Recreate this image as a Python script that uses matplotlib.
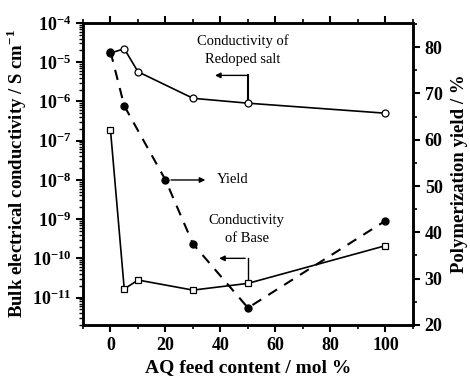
import matplotlib
matplotlib.use("Agg")
import matplotlib.pyplot as plt
from matplotlib.ticker import LogLocator, MultipleLocator, NullFormatter

plt.rcParams['font.family'] = ['Liberation Serif', 'DejaVu Serif']
plt.rcParams['mathtext.fontset'] = 'custom'
plt.rcParams['mathtext.rm'] = 'Liberation Serif'
plt.rcParams['mathtext.bf'] = 'Liberation Serif:bold'

# data
aq = [0, 5, 10, 30, 50, 100]
redoped = [1.7e-5, 2.2e-5, 5.7e-6, 1.2e-6, 9e-7, 5e-7]
base = [1.85e-7, 1.65e-11, 2.8e-11, 1.55e-11, 2.3e-11, 2.1e-10]
aq_yield = [0, 5, 20, 30, 50, 100]
yield_pct = [79, 67.3, 51.3, 37.5, 23.7, 42.5]

fig = plt.figure(figsize=(4.7, 3.79), dpi=100)
ax = fig.add_axes([0.1766, 0.1425, 0.702, 0.797])
ax2 = ax.twinx()

ax.plot(aq, redoped, '-', color='black', lw=1.2, marker='o', ms=5,
        mfc='white', mec='black', mew=0.9, zorder=3)
ax.plot(aq, base, '-', color='black', lw=1.2, marker='s', ms=5,
        mfc='white', mec='black', mew=0.9, zorder=3)
ax2.plot(aq_yield, yield_pct, '--', color='black', lw=1.5, dashes=(5, 4),
         marker='o', ms=5, mfc='black', mec='black')

ax.set_yscale('log')
ax.set_xlim(-10, 110)
ax.set_ylim(2e-12, 1e-4)
ax2.set_ylim(20, 85.2)

ax.xaxis.set_major_locator(MultipleLocator(20))
ax.xaxis.set_minor_locator(MultipleLocator(10))
ax.yaxis.set_major_locator(LogLocator(base=10, numticks=20))
ax.yaxis.set_minor_locator(LogLocator(base=10, subs=range(2, 10), numticks=20))
ax.yaxis.set_minor_formatter(NullFormatter())
ax2.yaxis.set_major_locator(MultipleLocator(10))
ax2.yaxis.set_minor_locator(MultipleLocator(5))

ax.tick_params(axis='x', which='both', direction='out', top=True,
               labeltop=False)
ax.tick_params(axis='x', which='major', length=5, width=1.5, labelsize=13)
ax.tick_params(axis='x', which='minor', length=3, width=1.2)
ax.tick_params(axis='y', which='major', direction='out', length=5, width=1.5,
               labelsize=13)
ax.tick_params(axis='y', which='minor', direction='out', length=3, width=1)
ax2.tick_params(axis='y', which='major', direction='out', length=5, width=1.5,
                labelsize=13)
ax2.tick_params(axis='y', which='minor', direction='out', length=3, width=1.2)

for a in (ax, ax2):
    for s in a.spines.values():
        s.set_linewidth(1.8)

for lbl in ax.get_xticklabels() + ax2.get_yticklabels():
    lbl.set_fontweight('bold')
ax.set_yticks([10.0 ** e for e in range(-11, -3)])
ax.set_yticklabels([r'$\mathbf{10^{%d}}$' % e for e in range(-11, -3)])

ax.set_xlabel('AQ feed content / mol %', fontsize=14, fontweight='bold',
              labelpad=4)
ax.set_ylabel(r'Bulk electrical conductivity / S cm$^{\mathbf{-1}}$',
              fontsize=13.5, fontweight='bold', labelpad=2)
ax2.set_ylabel('Polymerization yield / %', fontsize=13.5, fontweight='bold',
               labelpad=6)

# annotations
ax.text(48, 2.0e-5, 'Conductivity of\nRedoped salt', ha='center',
        va='center', fontsize=10.5, linespacing=1.55)
ax.plot([50, 50], [9e-7, 4.6e-6], color='black', lw=1.5)
ax.annotate('', xy=(37, 4.6e-6), xytext=(50.5, 4.6e-6),
            arrowprops=dict(arrowstyle='-|>', color='black', lw=1.0,
                            mutation_scale=8))

ax2.annotate('', xy=(35.5, 51.3), xytext=(21, 51.3),
             arrowprops=dict(arrowstyle='-|>', color='black', lw=1.0,
                             mutation_scale=8))
ax2.text(38.5, 51.3, 'Yield', ha='left', va='center', fontsize=10.5)

ax.text(49.5, 5.4e-10, 'Conductivity\nof Base', ha='center', va='center',
        fontsize=10.5, linespacing=1.5)
ax.plot([50, 50], [2.3e-11, 1.0e-10], color='black', lw=1.0)
ax.annotate('', xy=(38.5, 1.0e-10), xytext=(50, 1.0e-10),
            arrowprops=dict(arrowstyle='-|>', color='black', lw=1.0,
                            mutation_scale=8))

fig.savefig('out.png', dpi=100)
